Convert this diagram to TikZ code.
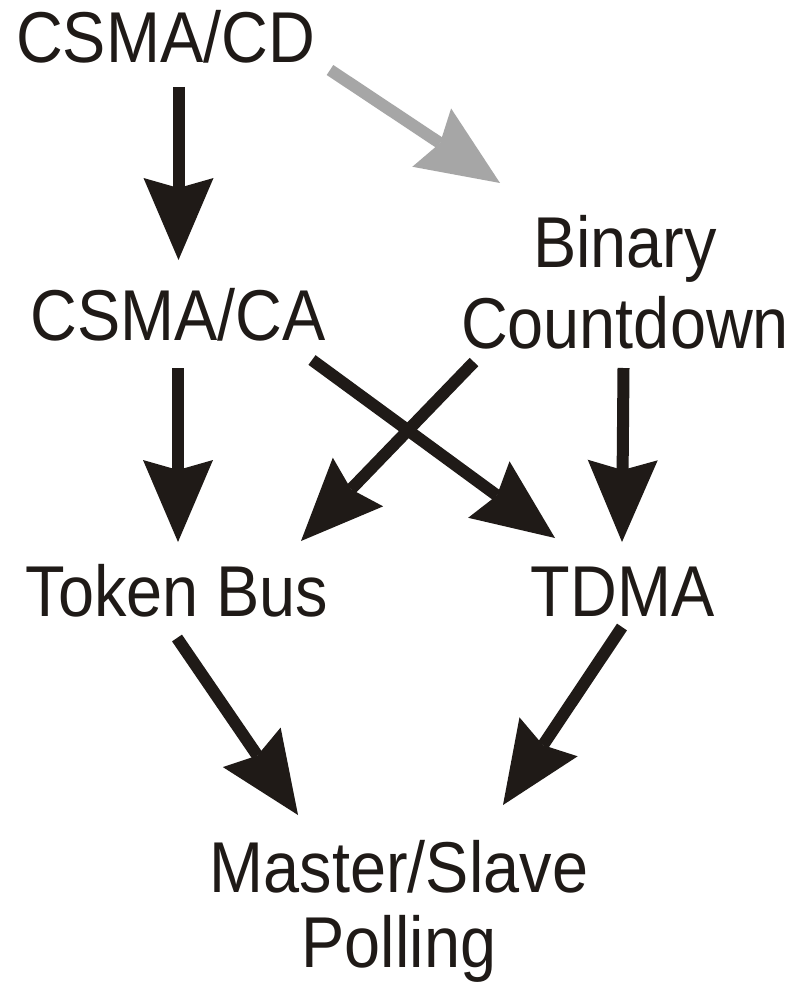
\documentclass[tikz,border=0pt]{standalone}
\usepackage{fontspec}
\setmainfont[FakeStretch=0.9]{Liberation Sans}
\usetikzlibrary{arrows.meta}
\definecolor{ink}{RGB}{31,26,23}
\definecolor{lightarrow}{RGB}{166,166,166}
\begin{document}
\begin{tikzpicture}[x=1pt,y=-1pt,
  lbl/.style={inner sep=0pt, anchor=base, text=ink, font=\fontsize{72}{81}\selectfont, align=center},
  arr/.style={draw=ink, line width=12pt, -{Stealth[length=82pt,width=70pt,inset=10pt,line width=0pt]}},
  grayarr/.style={arr, draw=lightarrow}]
\fill[white] (0,0) rectangle (806,987);
\useasboundingbox (0,0) rectangle (806,987);
\node[lbl] (cd) at (165.5,63) {CSMA/CD};
\node[lbl] (ca) at (178,340) {CSMA/CA};
\node[lbl] (bc) at (625,348) {Binary\\Countdown};
\node[lbl] (tb) at (177,616) {Token Bus};
\node[lbl] (td) at (622.5,616) {TDMA};
\node[lbl, font=\fontsize{72}{75}\selectfont] (ms) at (399,967) {Master/Slave\\Polling};
\draw[arr] ([shift={(13,24)}]cd.base) -- ([shift={(0.5,-80)}]ca.base);
\draw[arr] ([shift={(0,28)}]ca.base) -- ([shift={(1,-74)}]tb.base);
\draw[grayarr] ([shift={(164.5,7)}]cd.base) -- ([shift={(-125,-165)}]bc.base);
\draw[arr] ([shift={(134,20)}]ca.base) -- ([shift={(-67.5,-78)}]td.base);
\draw[arr] ([shift={(-151,14)}]bc.base) -- ([shift={(124,-75)}]tb.base);
\draw[arr] ([shift={(-1.5,20)}]bc.base) -- ([shift={(-0.5,-74)}]td.base);
\draw[arr] ([shift={(0,22)}]tb.base) -- ([shift={(-101,-152)}]ms.base);
\draw[arr] ([shift={(-0.5,11)}]td.base) -- ([shift={(104,-162)}]ms.base);
\end{tikzpicture}
\end{document}
